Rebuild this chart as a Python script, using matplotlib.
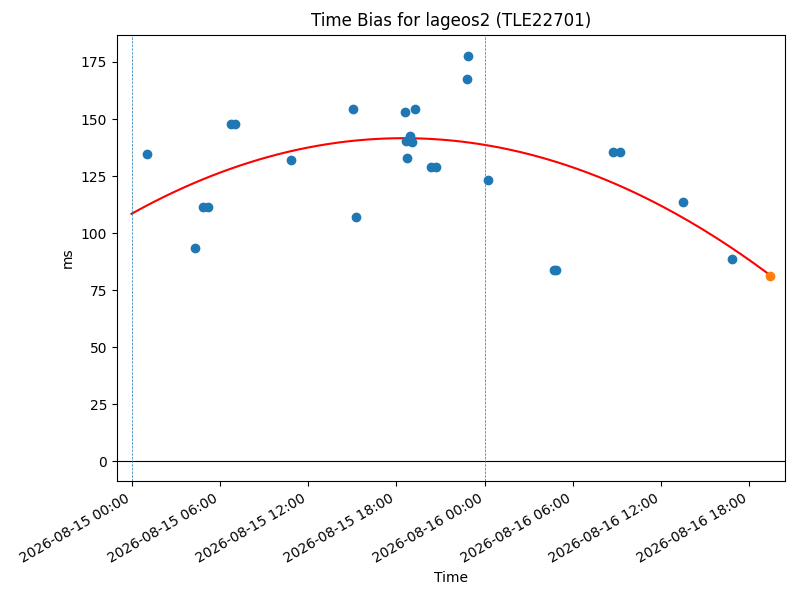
import numpy as np
import pandas as pd
import matplotlib
matplotlib.use("Agg")
import matplotlib.pyplot as plt
import matplotlib.dates as mdates

obs_times = ["2026-08-15 01:02", "2026-08-15 04:20", "2026-08-15 04:53", "2026-08-15 05:11",
             "2026-08-15 06:44", "2026-08-15 07:00", "2026-08-15 10:49", "2026-08-15 15:02",
             "2026-08-15 15:14", "2026-08-15 18:37", "2026-08-15 18:42", "2026-08-15 18:39",
             "2026-08-15 18:51", "2026-08-15 18:57", "2026-08-15 19:04", "2026-08-15 19:15",
             "2026-08-15 20:22", "2026-08-15 20:42", "2026-08-15 22:47", "2026-08-15 22:51",
             "2026-08-16 00:13", "2026-08-16 04:44", "2026-08-16 04:51", "2026-08-16 08:42",
             "2026-08-16 09:14", "2026-08-16 13:27", "2026-08-16 16:47"]
bias_ms = [134.5, 93.3, 111.3, 111.3, 147.7, 147.7, 132.0, 154.4,
           106.9, 153.1, 132.7, 140.2, 141.0, 142.5, 140.1, 154.4,
           128.8, 128.8, 167.4, 177.5, 123.1, 83.8, 83.8, 135.4,
           135.4, 113.5, 88.5]
last_time = "2026-08-16 19:22"
last_bias = 81.4
day_marks = ["2026-08-15 00:00", "2026-08-16 00:00"]

# quadratic fit (hours since first day mark)
fit_peak_hr = 18.5
fit_peak_ms = 141.6
fit_curv = -0.0968

t = pd.to_datetime(obs_times)
t_last = pd.to_datetime(last_time)
t0 = pd.to_datetime(day_marks[0])

end_h = (t_last - t0).total_seconds() / 3600
fit_h = np.linspace(0, end_h, 200)
fit_ms = fit_peak_ms + fit_curv * (fit_h - fit_peak_hr) ** 2
fit_t = [t0 + pd.Timedelta(hours=h) for h in fit_h]

fig, ax = plt.subplots(figsize=(8, 6), dpi=100)
ax.scatter(t, bias_ms, color='tab:blue', zorder=3)
ax.scatter([t_last], [last_bias], color='tab:orange', zorder=3)
ax.plot(fit_t, fit_ms, color='red')
ax.axhline(0, color='black', linewidth=0.8)
for d in day_marks:
    ax.axvline(pd.to_datetime(d), color='tab:blue', linestyle='--', linewidth=0.5)

ax.set_xlim(t0 - pd.Timedelta(hours=1.0), t0 + pd.Timedelta(hours=44.4))
ax.set_ylim(-8.7, 186.9)
ax.xaxis.set_major_locator(mdates.HourLocator(byhour=[0, 6, 12, 18]))
ax.xaxis.set_major_formatter(mdates.DateFormatter('%Y-%m-%d %H:%M'))
ax.set_title('Time Bias for lageos2 (TLE22701)')
ax.set_xlabel('Time')
ax.set_ylabel('ms')
fig.autofmt_xdate()
fig.subplots_adjust(left=0.146, right=0.981, top=0.942, bottom=0.198)
fig.savefig('out.png')
